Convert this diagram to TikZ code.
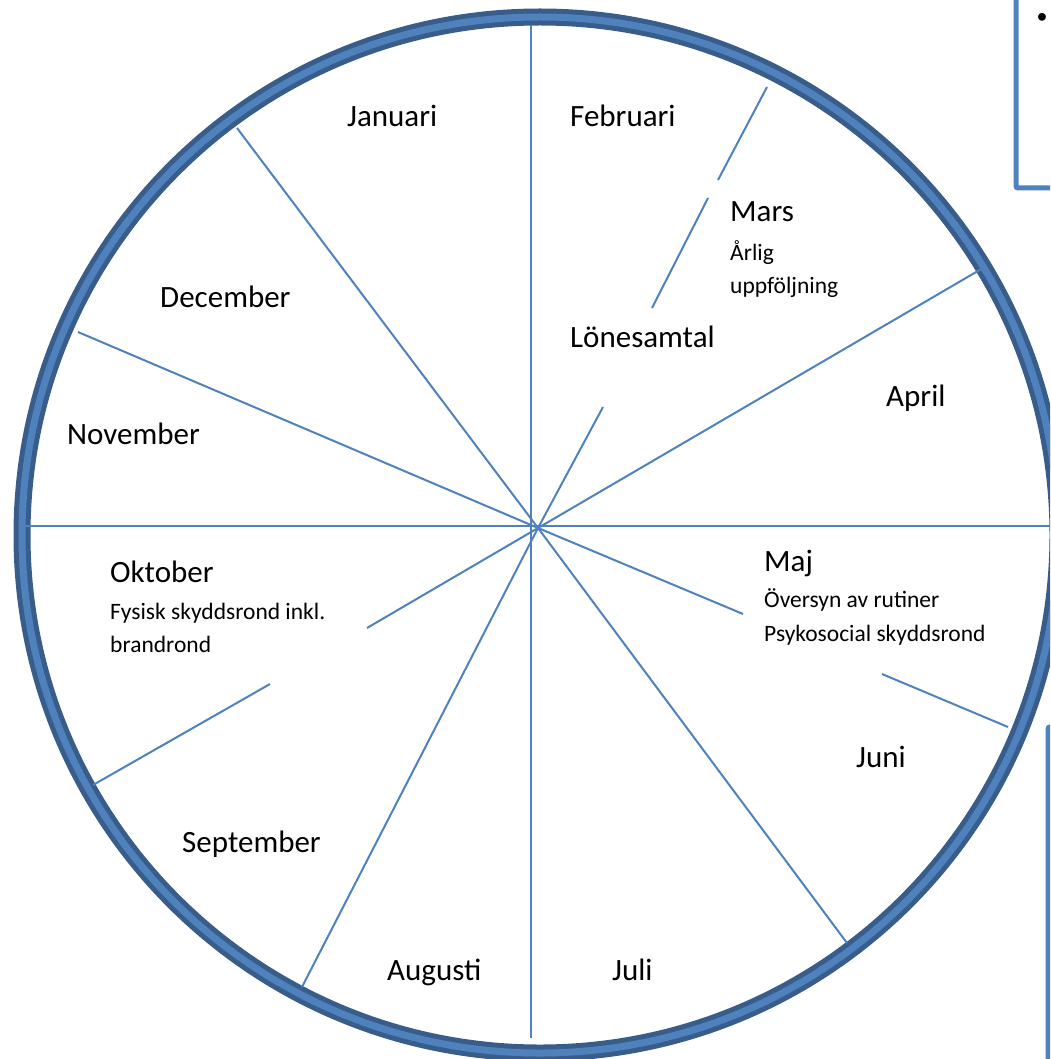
\documentclass[tikz,border=0pt]{standalone}
\usepackage{fontspec}
\setmainfont{Carlito}
\definecolor{wheelblue}{HTML}{4F81BD}
\definecolor{wheeldark}{HTML}{385D8A}
\begin{document}
\begin{tikzpicture}[x=1pt,y=-1pt,
  spoke/.style={draw=wheelblue,line width=2pt},
  frame/.style={draw=wheelblue,line width=5pt,rounded corners=2pt},
  month/.style={anchor=base west,inner sep=0pt,font=\fontsize{31}{37}\selectfont},
  note/.style={anchor=base west,inner sep=0pt,font=\fontsize{23.5}{28}\selectfont}]
\useasboundingbox (0,0) rectangle (1050,1059);
\clip (0,0) rectangle (1050,1059);

% outer ring
\coordinate (ringc) at (540,535);
\draw[wheeldark,line width=17pt] (ringc) circle[radius=518];
\draw[wheelblue,line width=7pt] (ringc) circle[radius=518];

% hub and rim points
\coordinate (c) at (538,528);
\coordinate (top) at (531,25);
\coordinate (bot) at (531,1038);
\coordinate (left) at (20,526);
\coordinate (right) at (1060,526);
\coordinate (janDec) at (237,128);
\coordinate (decNov) at (78,332);
\coordinate (sepAug) at (302,987);
\coordinate (julJun) at (847,943);
\coordinate (aprMar) at (983,268);
% Feb/Mar spoke, broken around the March text
\coordinate (fm1) at (767,87);
\coordinate (fm2) at (718,180);
\coordinate (fm3) at (708,198);
\coordinate (fm4) at (652,308);
\coordinate (fm5) at (603,407);
% Maj/Jun spoke, broken around the May text
\coordinate (mj1) at (1008,727);
\coordinate (mj2) at (882,674);
\coordinate (mj3) at (743,614);
% Okt/Sep spoke, broken around the October text
\coordinate (os1) at (93,785);
\coordinate (os2) at (270,684);
\coordinate (os3) at (367,628);

\draw[spoke] (top) -- (bot);
\draw[spoke] (left) -- (right);
\draw[spoke] (janDec) -- (c);
\draw[spoke] (decNov) -- (c);
\draw[spoke] (sepAug) -- (c);
\draw[spoke] (julJun) -- (c);
\draw[spoke] (aprMar) -- (c);
\draw[spoke] (fm1) -- (fm2);
\draw[spoke] (fm3) -- (fm4);
\draw[spoke] (fm5) -- (c);
\draw[spoke] (mj1) -- (mj2);
\draw[spoke] (mj3) -- (c);
\draw[spoke] (os1) -- (os2);
\draw[spoke] (os3) -- (c);

% month labels
\node[month] (jan) at (347,127) {Januari};
\node[month] (feb) at (570,127) {Februari};
\node[month] (mar) at (730,222) {Mars};
\node[note]  (mar1) at (730,261) {Årlig};
\node[note]  (mar2) at (730,293) {uppföljning};
\node[month] (lon) at (570,347) {Lönesamtal};
\node[month] (apr) at (886,406) {April};
\node[month] (maj) at (764,571) {Maj};
\node[note]  (maj1) at (764,607) {Översyn av rutiner};
\node[note]  (maj2) at (764,641) {Psykosocial skyddsrond};
\node[month] (jun) at (856,767) {Juni};
\node[month] (jul) at (612,980) {Juli};
\node[month] (aug) at (387,980) {Augusti};
\node[month] (sep) at (182,852) {September};
\node[month] (okt) at (110,582) {Oktober};
\node[note]  (okt1) at (110,619) {Fysisk skyddsrond inkl.};
\node[note]  (okt2) at (110,652) {brandrond};
\node[month] (nov) at (67,444) {November};
\node[month] (dec) at (160,307) {December};

% side boxes
\coordinate (bx1a) at (1016,-10);
\coordinate (bx1b) at (1016,188);
\coordinate (bx1c) at (1070,188);
\draw[frame] (bx1a) -- (bx1b) -- (bx1c);
\node[inner sep=0pt,font=\fontsize{22}{26}\selectfont] (bullet) at (1042,18) {•};
\coordinate (bx2a) at (1048,1070);
\coordinate (bx2b) at (1048,727);
\coordinate (bx2c) at (1070,727);
\draw[frame] (bx2a) -- (bx2b) -- (bx2c);
\end{tikzpicture}
\end{document}
